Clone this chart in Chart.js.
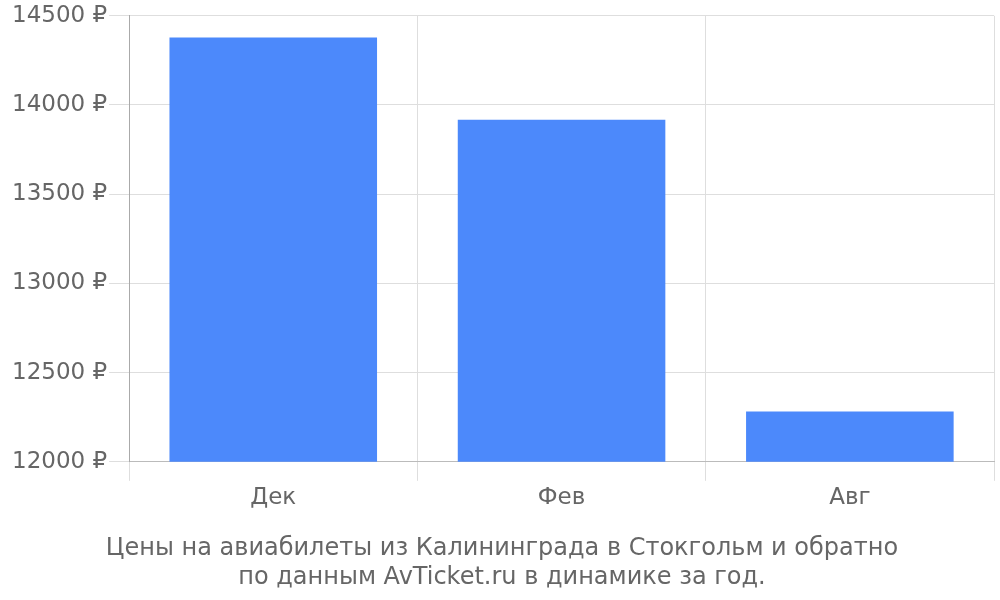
<!DOCTYPE html>
<html><head><meta charset="utf-8">
<script src="https://cdn.jsdelivr.net/npm/chart.js@4"></script>
<style>html,body{margin:0;padding:0;background:#fff}#w{width:1000px;height:600px}</style>
</head><body><div id="w"><canvas id="c"></canvas></div>
<script>
const categories = ['Дек', 'Фев', 'Авг'];
const prices = [14378, 13918, 12282];
const yTicks = [12000, 12500, 13000, 13500, 14000, 14500];
const titleLines = ['Цены на авиабилеты из Калининграда в Стокгольм и обратно', 'по данным AvTicket.ru в динамике за год.'];

Chart.defaults.font.family = '"DejaVu Sans", sans-serif';
Chart.defaults.color = '#666';
new Chart(document.getElementById('c'), {
  type: 'bar',
  data: { labels: categories, datasets: [{ data: prices, backgroundColor: '#4c89fb', borderWidth: 0 }] },
  options: {
    responsive: true, maintainAspectRatio: false, animation: false,
    layout: { padding: { top: 3, right: 6, left: 10, bottom: 0 } },
    plugins: {
      legend: { display: false }, tooltip: { enabled: false },
      title: { display: true, position: 'bottom', text: titleLines, font: { size: 24, weight: 'normal', lineHeight: 1.2 }, color: '#666', padding: { top: 20, bottom: 8 } }
    },
    scales: {
      x: {
        grid: { color: '#dedede', tickLength: 19, offset: true },
        border: { color: '#bbb' },
        ticks: { font: { size: 23 }, color: '#666', padding: 3 }
      },
      y: {
        min: 12000, max: 14500,
        afterBuildTicks: s => { s.ticks = yTicks.map(v => ({ value: v })); },
        grid: { color: '#dedede', tickLength: 20 },
        border: { color: '#aaa' },
        ticks: { font: { size: 23 }, color: '#666', padding: 2, callback: v => v + ' ₽' }
      }
    }
  }
});
</script></body></html>
